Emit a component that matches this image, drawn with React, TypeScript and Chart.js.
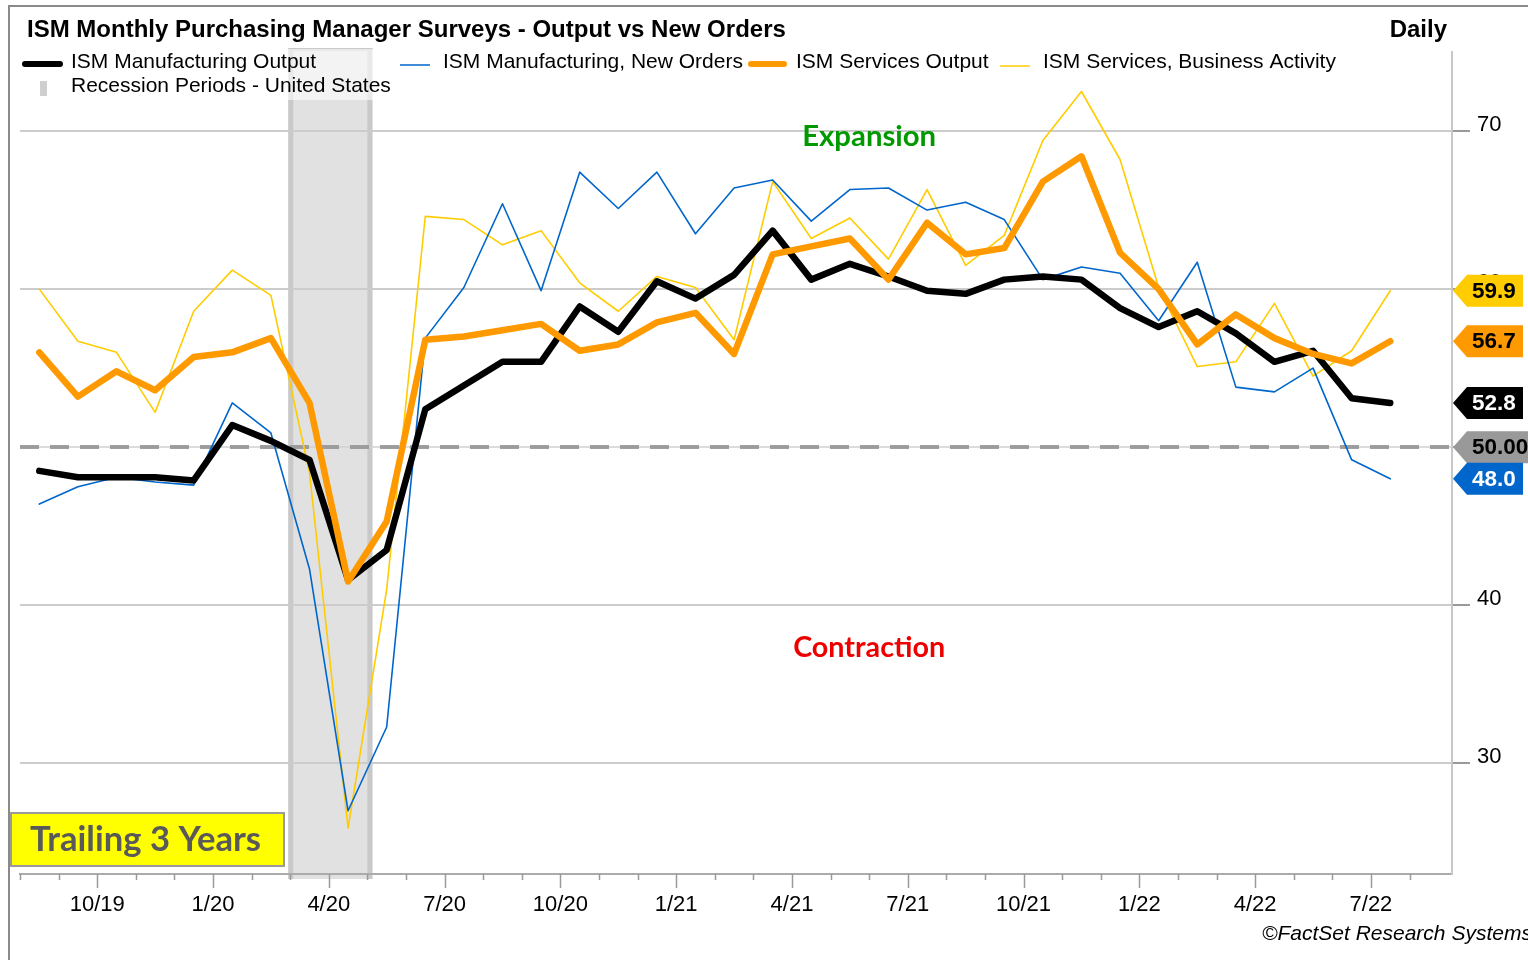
import React, { useEffect, useRef } from 'react';
import { Chart, registerables } from 'chart.js';

Chart.register(...registerables);

// ---------------- data ----------------
const months = [
  '8/19', '9/19', '10/19', '11/19', '12/19', '1/20', '2/20', '3/20', '4/20', '5/20', '6/20', '7/20',
  '8/20', '9/20', '10/20', '11/20', '12/20', '1/21', '2/21', '3/21', '4/21', '5/21', '6/21', '7/21',
  '8/21', '9/21', '10/21', '11/21', '12/21', '1/22', '2/22', '3/22', '4/22', '5/22', '6/22', '7/22',
];

const mfgOutput = [
  48.5, 48.1, 48.1, 48.1, 47.9, 51.4, 50.4, 49.2, 41.6, 43.5,
  52.4, 53.9, 55.4, 55.4, 58.9, 57.3, 60.5, 59.4, 60.9, 63.7, 60.6, 61.6,
  60.8, 59.9, 59.7, 60.6, 60.8, 60.6, 58.8, 57.6, 58.6, 57.2, 55.4, 56.1, 53.1, 52.8,
];

const mfgNewOrders = [
  46.4, 47.5, 48.1, 47.8, 47.6, 52.8, 50.9, 42.3, 27.0, 32.3,
  56.9, 60.1, 65.4, 59.9, 67.4, 65.1, 67.4, 63.5, 66.4, 66.9, 64.3, 66.3,
  66.4, 65.0, 65.5, 64.4, 60.6, 61.4, 61.0, 58.0, 61.7, 53.8, 53.5, 55.0, 49.2, 48.0,
];

const svcOutput = [
  56.0, 53.2, 54.8, 53.6, 55.7, 56.0, 56.9, 52.8, 41.5, 45.3,
  56.8, 57.0, 57.4, 57.8, 56.1, 56.5, 57.9, 58.5, 55.9, 62.2, 62.7, 63.2,
  60.6, 64.2, 62.2, 62.6, 66.8, 68.4, 62.3, 60.0, 56.5, 58.4, 56.9, 55.9, 55.3, 56.7,
];

const svcBusiness = [
  60.0, 56.7, 56.0, 52.2, 58.6, 61.2, 59.6, 48.4, 25.9, 41.0,
  64.6, 64.4, 62.8, 63.7, 60.4, 58.6, 60.8, 60.1, 56.8, 66.8, 63.2, 64.5,
  61.9, 66.3, 61.5, 63.4, 69.4, 72.5, 68.2, 60.1, 55.1, 55.4, 59.1, 54.5, 56.1, 59.9,
];

const seriesNames = [
  'ISM Manufacturing Output',
  'ISM Manufacturing, New Orders',
  'ISM Services Output',
  'ISM Services, Business Activity',
];
const recessionName = 'Recession Periods - United States';

// month-start ticks (0 = Aug 1, 2019); labelled quarters
const xTickMonths = [2, 5, 8, 11, 14, 17, 20, 23, 26, 29, 32, 35];
const xTickLabels = ['10/19', '1/20', '4/20', '7/20', '10/20', '1/21', '4/21', '7/21', '10/21', '1/22', '4/22', '7/22'];
const monthTickCount = 37;
const yTicks = [30, 40, 50, 60, 70];
const referenceLevel = 50;
const recession = [6.95, 9.13];

const titleText = 'ISM Monthly Purchasing Manager Surveys - Output vs New Orders';
const frequencyText = 'Daily';
const footerText = '\u00A9FactSet Research Systems';
const trailingText = 'Trailing 3 Years';
const expansionText = 'Expansion';
const contractionText = 'Contraction';
const expansionAt = { x: 22.0, y: 69.65 };
const contractionAt = { x: 22.0, y: 37.3 };

// ---------------- styling ----------------
const BLACK = '#000000';
const BLUE = '#0066CC';
const ORANGE = '#FF9900';
const YELLOW = '#FFCC00';
const GRAY_TAG = '#999999';
const ARIAL = '"Liberation Sans", Arial, Helvetica, sans-serif';
const CALIBRI = 'Lato, "Open Sans", sans-serif';

function fitFont(ctx: CanvasRenderingContext2D, text: string, width: number, weight: string, family: string) {
  ctx.font = `${weight} 100px ${family}`;
  const w = ctx.measureText(text).width;
  const size = (100 * width) / w;
  return `${weight} ${size.toFixed(2)}px ${family}`;
}

const decorPlugin = {
  id: 'decor',
  beforeDraw(chart: any) {
    const { ctx, scales } = chart;
    const x = scales.x;
    ctx.save();
    // outer frame (top + left)
    ctx.fillStyle = '#8a8a8a';
    ctx.fillRect(8, 5, 1520, 2);
    ctx.fillRect(8, 5, 2, 955);
    // recession band
    const x0 = x.getPixelForValue(recession[0]);
    const x1 = x.getPixelForValue(recession[1]);
    const top = 48;
    const bottom = chart.chartArea.bottom + 5;
    ctx.fillStyle = '#e1e1e1';
    ctx.fillRect(x0, top, x1 - x0, bottom - top);
    ctx.fillStyle = '#c9c9c9';
    ctx.fillRect(x0, top, 5, bottom - top);
    ctx.fillRect(x1 - 5, top, 5, bottom - top);
    ctx.fillRect(x0, top, x1 - x0, 3);
    ctx.restore();
  },
  beforeDatasetsDraw(chart: any) {
    const { ctx, scales, chartArea } = chart;
    const x = scales.x;
    const y = scales.y;
    ctx.save();
    // reference line at 50
    const y50 = Math.round(y.getPixelForValue(referenceLevel));
    ctx.strokeStyle = '#d0d0d0';
    ctx.lineWidth = 1.5;
    ctx.beginPath();
    ctx.moveTo(chartArea.left, y50);
    ctx.lineTo(chartArea.right, y50);
    ctx.stroke();
    ctx.strokeStyle = 'rgba(150,150,150,0.9)';
    ctx.lineWidth = 4;
    ctx.setLineDash([19, 11]);
    ctx.beginPath();
    ctx.moveTo(chartArea.left, y50);
    ctx.lineTo(chartArea.right, y50);
    ctx.stroke();
    ctx.setLineDash([]);
    // month tick marks
    ctx.strokeStyle = '#9a9a9a';
    ctx.lineWidth = 1.5;
    for (let k = 0; k < monthTickCount; k++) {
      const px = Math.round(x.getPixelForValue(k)) + 0.5;
      const len = xTickMonths.includes(k) ? 14 : 6;
      ctx.beginPath();
      ctx.moveTo(px, chartArea.bottom);
      ctx.lineTo(px, chartArea.bottom + len);
      ctx.stroke();
    }
    ctx.restore();
  },
  afterDraw(chart: any) {
    const { ctx, scales, chartArea } = chart;
    const x = scales.x;
    const y = scales.y;
    ctx.save();

    // legend backdrop
    ctx.fillStyle = 'rgba(255,255,255,0.6)';
    ctx.fillRect(20, 49, 1325, 26);
    ctx.fillRect(20, 75, 375, 25);

    // title
    ctx.fillStyle = '#000';
    ctx.textBaseline = 'alphabetic';
    ctx.textAlign = 'left';
    ctx.font = `bold 24px ${ARIAL}`;
    ctx.fillText(titleText, 27, 37);
    ctx.textAlign = 'right';
    ctx.fillText(frequencyText, 1447, 37);

    // legend
    const legendItems = [
      { sx: 25, ex: 60, ly: 64, w: 6, c: BLACK, tx: 71 },
      { sx: 400, ex: 430, ly: 65, w: 1.5, c: BLUE, tx: 443 },
      { sx: 751, ex: 784, ly: 64, w: 6, c: ORANGE, tx: 796 },
      { sx: 1000, ex: 1030, ly: 66, w: 1.5, c: YELLOW, tx: 1043 },
    ];
    ctx.textAlign = 'left';
    ctx.font = `21px ${ARIAL}`;
    legendItems.forEach((it, i) => {
      ctx.strokeStyle = it.c;
      ctx.lineWidth = it.w;
      ctx.lineCap = it.w > 3 ? 'round' : 'butt';
      ctx.beginPath();
      ctx.moveTo(it.sx, it.ly);
      ctx.lineTo(it.ex, it.ly);
      ctx.stroke();
      ctx.fillStyle = '#000';
      ctx.fillText(seriesNames[i], it.tx, 68);
    });
    ctx.fillStyle = '#cfcfcf';
    ctx.fillRect(40, 81, 7, 15);
    ctx.fillStyle = '#000';
    ctx.fillText(recessionName, 71, 92);

    // expansion / contraction
    ctx.textAlign = 'center';
    ctx.textBaseline = 'middle';
    ctx.fillStyle = '#009a00';
    ctx.font = fitFont(ctx, expansionText, 134, 'bold', CALIBRI);
    ctx.fillText(expansionText, x.getPixelForValue(expansionAt.x), y.getPixelForValue(expansionAt.y));
    ctx.fillStyle = '#ee0000';
    ctx.font = fitFont(ctx, contractionText, 152, 'bold', CALIBRI);
    ctx.fillText(contractionText, x.getPixelForValue(contractionAt.x), y.getPixelForValue(contractionAt.y));

    // trailing box
    ctx.fillStyle = '#ffff00';
    ctx.fillRect(11, 813, 273, 53);
    ctx.strokeStyle = '#9a9a9a';
    ctx.lineWidth = 2;
    ctx.strokeRect(11, 813, 273, 53);
    ctx.fillStyle = '#595959';
    ctx.font = fitFont(ctx, trailingText, 231, 'bold', CALIBRI);
    ctx.textAlign = 'left';
    ctx.fillText(trailingText, 30, 840);

    // value tags on right axis
    const tags = [
      { v: svcBusiness[svcBusiness.length - 1], t: svcBusiness[svcBusiness.length - 1].toFixed(1), bg: YELLOW, fg: '#000', w: 1523 },
      { v: svcOutput[svcOutput.length - 1], t: svcOutput[svcOutput.length - 1].toFixed(1), bg: ORANGE, fg: '#000', w: 1523 },
      { v: mfgOutput[mfgOutput.length - 1], t: mfgOutput[mfgOutput.length - 1].toFixed(1), bg: BLACK, fg: '#fff', w: 1523 },
      { v: referenceLevel, t: referenceLevel.toFixed(2), bg: GRAY_TAG, fg: '#000', w: 1540 },
      { v: mfgNewOrders[mfgNewOrders.length - 1], t: mfgNewOrders[mfgNewOrders.length - 1].toFixed(1), bg: BLUE, fg: '#fff', w: 1523 },
    ];
    const tip = chartArea.right + 1;
    tags.forEach((tg) => {
      const yc = y.getPixelForValue(tg.v);
      ctx.fillStyle = tg.bg;
      ctx.beginPath();
      ctx.moveTo(tip, yc);
      ctx.lineTo(tip + 14, yc - 16);
      ctx.lineTo(tg.w, yc - 16);
      ctx.lineTo(tg.w, yc + 16);
      ctx.lineTo(tip + 14, yc + 16);
      ctx.closePath();
      ctx.fill();
      ctx.fillStyle = tg.fg;
      ctx.font = `bold 22.5px ${ARIAL}`;
      ctx.textAlign = 'left';
      ctx.textBaseline = 'middle';
      ctx.fillText(tg.t, 1472, yc + 1);
    });

    // footer
    ctx.fillStyle = '#000';
    ctx.textAlign = 'left';
    ctx.textBaseline = 'alphabetic';
    ctx.font = `italic 21px ${ARIAL}`;
    ctx.fillText(footerText, 1262, 940);

    ctx.restore();
  },
};

function toPoints(values: number[]) {
  return values.map((v, i) => ({ x: i + 0.5, y: v }));
}

export default function App() {
  const ref = useRef<HTMLCanvasElement | null>(null);

  useEffect(() => {
    if (!ref.current) return;
    const line = (label: string, values: number[], color: string, width: number) => ({
      label,
      data: toPoints(values),
      borderColor: color,
      backgroundColor: color,
      borderWidth: width,
      pointRadius: 0,
      tension: 0,
      borderCapStyle: 'round' as const,
      borderJoinStyle: 'round' as const,
      fill: false,
    });
    const chart = new Chart(ref.current, {
      type: 'line',
      data: {
        labels: months,
        datasets: [
          line(seriesNames[2], svcOutput, ORANGE, 6.5),
          line(seriesNames[0], mfgOutput, BLACK, 6.5),
          line(seriesNames[1], mfgNewOrders, BLUE, 1.6),
          line(seriesNames[3], svcBusiness, YELLOW, 1.6),
        ],
      },
      options: {
        animation: false,
        responsive: false,
        devicePixelRatio: 1,
        layout: { padding: { left: 20, top: 52, right: 0, bottom: 0 } },
        plugins: {
          legend: { display: false },
          title: { display: false },
          tooltip: { enabled: false },
        },
        scales: {
          x: {
            type: 'linear',
            min: 0,
            max: 37.1,
            afterBuildTicks: (s: any) => {
              s.ticks = xTickMonths.map((v) => ({ value: v }));
            },
            afterFit: (s: any) => {
              s.height = 86;
            },
            grid: { display: false },
            border: { display: true, color: '#ababab', width: 2 },
            ticks: {
              autoSkip: false,
              maxRotation: 0,
              padding: 10,
              color: '#000',
              font: { family: ARIAL, size: 22 },
              callback: (value: any) => {
                const i = xTickMonths.indexOf(Number(value));
                return i >= 0 ? xTickLabels[i] : '';
              },
            },
          },
          y: {
            type: 'linear',
            position: 'right',
            min: 23,
            max: 75,
            afterBuildTicks: (s: any) => {
              s.ticks = yTicks.map((v) => ({ value: v }));
            },
            afterFit: (s: any) => {
              s.width = 76;
            },
            grid: {
              color: (c: any) => (c.tick && c.tick.value === referenceLevel ? 'rgba(0,0,0,0)' : '#cccccc'),
              lineWidth: 2,
              tickLength: 18,
              tickColor: '#9a9a9a',
              tickWidth: 2,
            },
            border: { display: true, color: '#c8c8c8', width: 2 },
            ticks: {
              padding: 7,
              labelOffset: -6,
              color: '#000',
              font: { family: ARIAL, size: 22 },
            },
          },
        },
      },
      plugins: [decorPlugin],
    } as any);
    return () => chart.destroy();
  }, []);

  return (
    <canvas
      ref={ref}
      width={1528}
      height={960}
      style={{ position: 'absolute', left: 0, top: 0, width: 1528, height: 960 }}
    />
  );
}
